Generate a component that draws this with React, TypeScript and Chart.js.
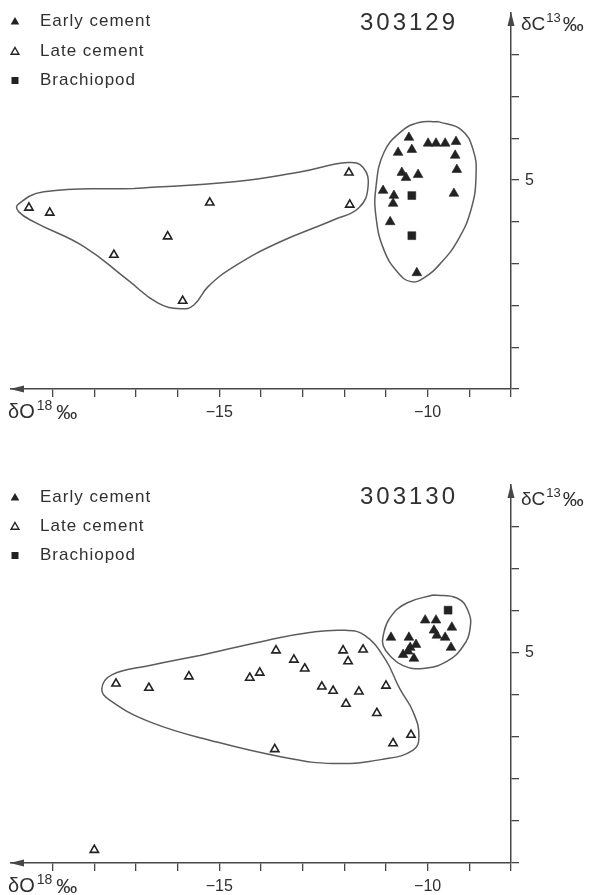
import React, { useEffect, useRef } from 'react';
import { Chart, registerables } from 'chart.js';

Chart.register(...registerables);

// ---------- shared axis settings ----------
const X_MIN = -20;
const X_MAX = -8;
const Y_MIN = 0;
const Y_MAX = 9;
const xTickValues = [-19, -18, -17, -16, -15, -14, -13, -12, -11, -10, -9, -8];
const xTickLabels: Record<string, string> = { '-15': '\u221215', '-10': '\u221210' };
const yTickValues = [0, 1, 2, 3, 4, 5, 6, 7, 8];
const yTickLabels: Record<string, string> = { '5': '5' };
const legendLabels = ['Early cement', 'Late cement', 'Brachiopod'];

// ---------- sample 303129 ----------
const title1 = '303129';
const early1X = [-10.45, -10.71, -10.38, -9.99, -9.8, -9.58, -9.32, -9.34, -9.3, -10.62, -10.52, -10.23, -11.07, -10.81, -10.83, -9.37, -10.9, -10.26];
const early1Y = [6.02, 5.66, 5.73, 5.88, 5.88, 5.88, 5.92, 5.59, 5.25, 5.18, 5.06, 5.13, 4.75, 4.63, 4.44, 4.68, 4.0, 2.78];
const late1X = [-19.57, -19.07, -15.23, -16.24, -17.53, -15.88, -11.89, -11.87];
const late1Y = [4.34, 4.22, 4.46, 3.65, 3.21, 2.11, 5.18, 4.41];
const brach1X = [-10.38, -10.38];
const brach1Y = [4.63, 3.67];
const env1aX = [-17.05, -14.65, -13.04, -11.91, -11.55, -11.43, -11.65, -12.25, -13.59, -14.65, -15.27, -15.61, -15.92, -16.48, -17.2, -18.25, -19.45, -19.81, -19.84, -19.21];
const env1aY = [4.8, 4.96, 5.2, 5.42, 5.3, 4.84, 4.34, 4.05, 3.5, 2.93, 2.45, 2.01, 1.92, 2.06, 2.61, 3.41, 4.0, 4.24, 4.41, 4.72];
const env1bX = [-9.75, -9.2, -8.91, -8.84, -8.96, -9.27, -9.68, -10.09, -10.4, -10.71, -11.05, -11.24, -11.24, -11.05, -10.64, -10.21];
const env1bY = [6.4, 6.21, 5.73, 5.08, 4.29, 3.57, 3.02, 2.66, 2.57, 2.78, 3.33, 4.12, 4.84, 5.66, 6.16, 6.38];

// ---------- sample 303130 ----------
const title2 = '303130';
const early2X = [-10.88, -10.45, -10.06, -9.8, -9.85, -9.42, -9.78, -9.58, -10.28, -10.42, -10.59, -10.47, -10.33, -9.44];
const early2Y = [5.37, 5.37, 5.78, 5.78, 5.54, 5.61, 5.42, 5.37, 5.2, 5.13, 4.96, 5.04, 4.87, 5.13];
const late2X = [-17.48, -16.69, -15.73, -14.27, -14.03, -13.64, -13.21, -12.95, -12.03, -11.55, -11.91, -12.54, -12.27, -11.65, -11.0, -11.96, -11.22, -10.4, -10.83, -13.67, -18.0];
const late2Y = [4.27, 4.17, 4.44, 4.41, 4.53, 5.06, 4.84, 4.63, 5.06, 5.08, 4.8, 4.2, 4.1, 4.08, 4.22, 3.79, 3.57, 3.05, 2.85, 2.71, 0.31];
const brach2X = [-9.51];
const brach2Y = [6.02];
const env2aX = [-15.47, -13.86, -12.83, -11.99, -11.51, -11.03, -10.67, -10.35, -10.21, -10.35, -11.07, -12.27, -13.47, -15.06, -16.67, -17.63, -17.82, -17.58, -16.67];
const env2aY = [4.94, 5.3, 5.49, 5.54, 5.42, 4.87, 4.15, 3.6, 3.02, 2.69, 2.47, 2.37, 2.52, 2.88, 3.36, 3.88, 4.15, 4.48, 4.7];
const env2bX = [-9.87, -9.3, -9.03, -8.98, -9.15, -9.54, -10.11, -10.59, -10.91, -11.07, -11.07, -10.91, -10.5];
const env2bY = [6.38, 6.31, 6.0, 5.59, 5.16, 4.8, 4.63, 4.7, 4.94, 5.18, 5.4, 5.83, 6.19];

// ---------- styles ----------
const FONT = '"Liberation Sans", Arial, Helvetica, sans-serif';
const INK = '#222222';
const AXIS = '#474747';
const LINE = '#5c5c5c';
const TEXT = '#303030';

type P = { x: number; y: number };
const pts = (xs: number[], ys: number[]): P[] => xs.map((x, i) => ({ x, y: ys[i] }));
const closed = (xs: number[], ys: number[]): P[] => {
  const p = pts(xs, ys);
  return [...p, p[0]];
};

function triangle(ctx: CanvasRenderingContext2D, x: number, y: number, r: number) {
  ctx.beginPath();
  ctx.moveTo(x, y - r);
  ctx.lineTo(x + 0.866 * r, y + 0.5 * r);
  ctx.lineTo(x - 0.866 * r, y + 0.5 * r);
  ctx.closePath();
}

function rich(ctx: CanvasRenderingContext2D, x: number, y: number, parts: [string, number, number, number][]) {
  let cx = x;
  for (const [t, size, dy, gap] of parts) {
    cx += gap;
    ctx.font = `${size}px ${FONT}`;
    ctx.fillText(t, cx, y + dy);
    cx += ctx.measureText(t).width;
  }
}

const decorPlugin = {
  id: 'decor',
  afterDraw(chart: any, _args: any, opts: any) {
    const ctx: CanvasRenderingContext2D = chart.ctx;
    const { left, right, top, bottom } = chart.chartArea;
    ctx.save();
    // arrow heads
    ctx.fillStyle = AXIS;
    ctx.beginPath();
    ctx.moveTo(left - 1, bottom);
    ctx.lineTo(left + 13, bottom - 3.5);
    ctx.lineTo(left + 13, bottom + 3.5);
    ctx.closePath();
    ctx.fill();
    ctx.beginPath();
    ctx.moveTo(right, top - 1);
    ctx.lineTo(right - 3.5, top + 13);
    ctx.lineTo(right + 3.5, top + 13);
    ctx.closePath();
    ctx.fill();

    // axis titles
    ctx.fillStyle = TEXT;
    ctx.textAlign = 'left';
    ctx.textBaseline = 'alphabetic';
    rich(ctx, right + 10, top + opts.yTitleDy, [['\u03b4C', 19, 0, 0], ['13', 13, -8, 1], ['\u2030', 21, 1, 2]]);
    rich(ctx, left - 3, bottom + 29, [['\u03b4O', 20, 0, 0], ['18', 14, -8, 2], ['\u2030', 21, 1, 4]]);

    // title
    ctx.font = `24px ${FONT}`;
    (ctx as any).letterSpacing = '3px';
    ctx.textAlign = 'center';
    ctx.textBaseline = 'middle';
    ctx.fillText(opts.title, right - 102, top + opts.titleDy);

    // legend
    (ctx as any).letterSpacing = '1px';
    ctx.textAlign = 'left';
    ctx.font = `17px ${FONT}`;
    const ys: number[] = opts.legendY;
    legendLabels.forEach((lab, i) => {
      const y = ys[i];
      const mx = 15;
      if (i === 0) {
        ctx.fillStyle = INK;
        triangle(ctx, mx, y + 1, 5);
        ctx.fill();
      } else if (i === 1) {
        ctx.strokeStyle = INK;
        ctx.lineWidth = 1.4;
        triangle(ctx, mx, y + 1, 4.5);
        ctx.stroke();
      } else {
        ctx.fillStyle = INK;
        ctx.fillRect(mx - 3.5, y - 3, 7, 7);
      }
      ctx.fillStyle = TEXT;
      ctx.fillText(lab, 40, y);
    });
    ctx.restore();
  },
};

type PanelProps = {
  width: number;
  height: number;
  padTop: number;
  padBottom: number;
  title: string;
  legendY: number[];
  titleDy: number;
  yTitleDy: number;
  early: P[];
  late: P[];
  brach: P[];
  envelopes: P[][];
};

function Panel(props: PanelProps) {
  const ref = useRef<HTMLCanvasElement | null>(null);
  useEffect(() => {
    if (!ref.current) return;
    const envSets = props.envelopes.map((d) => ({
      label: 'envelope',
      data: d,
      showLine: true,
      pointRadius: 0,
      borderColor: LINE,
      borderWidth: 1.5,
      tension: 0.45,
      fill: false,
    }));
    const chart = new Chart(ref.current, {
      type: 'scatter',
      data: {
        datasets: [
          {
            label: legendLabels[0],
            data: props.early,
            pointStyle: 'triangle',
            pointRadius: 5.6,
            backgroundColor: INK,
            borderColor: INK,
            borderWidth: 0.6,
          },
          {
            label: legendLabels[1],
            data: props.late,
            pointStyle: 'triangle',
            pointRadius: 4.8,
            backgroundColor: '#ffffff',
            borderColor: INK,
            borderWidth: 1.6,
          },
          {
            label: legendLabels[2],
            data: props.brach,
            pointStyle: 'rect',
            pointRadius: 5.6,
            backgroundColor: INK,
            borderColor: INK,
            borderWidth: 0.5,
          },
          ...envSets,
        ] as any,
      },
      options: {
        animation: false,
        responsive: false,
        maintainAspectRatio: false,
        events: [],
        layout: { padding: { left: 11, right: 0, top: props.padTop, bottom: props.padBottom } },
        plugins: {
          legend: { display: false },
          tooltip: { enabled: false },
          decor: { title: props.title, legendY: props.legendY, titleDy: props.titleDy, yTitleDy: props.yTitleDy },
        } as any,
        scales: {
          x: {
            type: 'linear',
            position: 'bottom',
            min: X_MIN,
            max: X_MAX,
            afterBuildTicks: (s: any) => {
              s.ticks = xTickValues.map((v) => ({ value: v }));
            },
            afterFit: (s: any) => {
              s.height = 32;
              s.paddingLeft = 0;
              s.paddingRight = 0;
              s.paddingTop = 0;
              s.paddingBottom = 0;
            },
            grid: { drawOnChartArea: false, drawTicks: true, tickLength: 8, color: AXIS, lineWidth: 1.3 },
            border: { display: true, color: AXIS, width: 1.5 },
            ticks: {
              autoSkip: false,
              maxRotation: 0,
              minRotation: 0,
              padding: 6,
              color: TEXT,
              font: { family: FONT, size: 16 },
              callback: (v: any) => xTickLabels[String(Math.round(Number(v)))] ?? '',
            },
          },
          y: {
            type: 'linear',
            position: 'right',
            min: Y_MIN,
            max: Y_MAX,
            afterBuildTicks: (s: any) => {
              s.ticks = yTickValues.map((v) => ({ value: v }));
            },
            afterFit: (s: any) => {
              s.width = 90;
              s.paddingLeft = 0;
              s.paddingRight = 0;
              s.paddingTop = 0;
              s.paddingBottom = 0;
            },
            grid: { drawOnChartArea: false, drawTicks: true, tickLength: 8, color: AXIS, lineWidth: 1.3 },
            border: { display: true, color: AXIS, width: 1.5 },
            ticks: {
              autoSkip: false,
              padding: 6,
              color: TEXT,
              font: { family: FONT, size: 16 },
              callback: (v: any) => yTickLabels[String(Math.round(Number(v)))] ?? '',
            },
          },
        } as any,
      },
      plugins: [decorPlugin as any],
    });
    return () => chart.destroy();
  }, []);
  return <canvas ref={ref} width={props.width} height={props.height} style={{ display: 'block', width: props.width, height: props.height }} />;
}

export default function App() {
  return (
    <div style={{ position: 'fixed', left: 0, top: 0, width: 601, height: 895, background: '#ffffff', overflow: 'hidden' }}>
      <Panel
        width={601}
        height={440}
        padTop={13}
        padBottom={19}
        title={title1}
        legendY={[21, 51, 80]}
        titleDy={10}
        yTitleDy={17}
        early={pts(early1X, early1Y)}
        late={pts(late1X, late1Y)}
        brach={pts(brach1X, brach1Y)}
        envelopes={[closed(env1aX, env1aY), closed(env1bX, env1bY)]}
      />
      <Panel
        width={601}
        height={455}
        padTop={45}
        padBottom={0}
        title={title2}
        legendY={[57, 86, 115]}
        titleDy={12}
        yTitleDy={20}
        early={pts(early2X, early2Y)}
        late={pts(late2X, late2Y)}
        brach={pts(brach2X, brach2Y)}
        envelopes={[closed(env2aX, env2aY), closed(env2bX, env2bY)]}
      />
    </div>
  );
}
